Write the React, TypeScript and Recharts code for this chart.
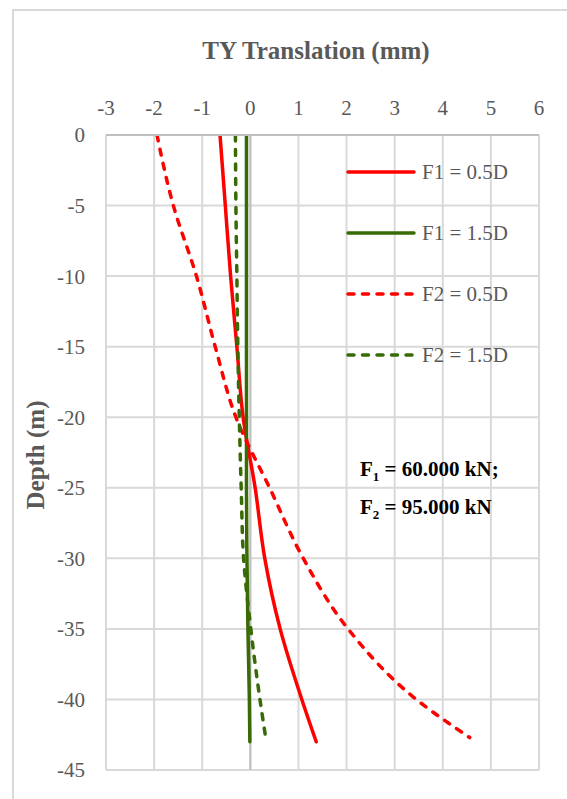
import { LineChart, Line, XAxis, YAxis, CartesianGrid, ReferenceLine, Legend } from "recharts";

// depth along the pile (m) and lateral TY translation (mm) per load case
const DEPTH_F1 = [0, -5, -10, -15, -20, -25, -30, -35, -40, -43];
const F1_05D = [-0.63, -0.52, -0.41, -0.28, -0.15, 0.1, 0.3, 0.62, 1.07, 1.37];
const F1_15D = [-0.08, -0.08, -0.08, -0.08, -0.08, -0.08, -0.07, -0.05, -0.02, -0.01];

const DEPTH_F2_05D = [0, -5, -10, -15, -20, -25, -30, -35, -40, -42.7];
const F2_05D = [-1.94, -1.6, -1.12, -0.73, -0.3, 0.4, 1.1, 2.03, 3.45, 4.56];

const DEPTH_F2_15D = [0, -5, -10, -15, -20, -25, -30, -35, -40, -42.5];
const F2_15D = [-0.31, -0.3, -0.28, -0.26, -0.23, -0.19, -0.14, 0.01, 0.2, 0.31];

const X_TICKS = [-3, -2, -1, 0, 1, 2, 3, 4, 5, 6];
const Y_TICKS = [0, -5, -10, -15, -20, -25, -30, -35, -40, -45];

const RED = "#ff0000";
const GREEN = "#386a05";
const TEXT = "#595959";
const GRID = "#d9d9d9";
const FONT = '"Liberation Serif", "Times New Roman", serif';

const toPoints = (depths: number[], xs: number[]) =>
  depths.map((d, i) => ({ depth: d, x: xs[i] }));

const SERIES = [
  { name: "F1 = 0.5D", color: RED, dashed: false, data: toPoints(DEPTH_F1, F1_05D) },
  { name: "F1 = 1.5D", color: GREEN, dashed: false, data: toPoints(DEPTH_F1, F1_15D) },
  { name: "F2 = 0.5D", color: RED, dashed: true, data: toPoints(DEPTH_F2_05D, F2_05D) },
  { name: "F2 = 1.5D", color: GREEN, dashed: true, data: toPoints(DEPTH_F2_15D, F2_15D) },
];

const LINE_W = 3.5;
const DASH = "6 8.5";

function LegendBox(props: any) {
  const payload = props.payload || [];
  return (
    <svg width={210} height={230} style={{ display: "block" }}>
      {payload.map((entry: any, i: number) => {
        const s = SERIES.find((v) => v.name === entry.value);
        const y = 22 + i * 61;
        return (
          <g key={entry.value}>
            <line
              x1={9}
              x2={75}
              y1={y}
              y2={y}
              stroke={entry.color}
              strokeWidth={LINE_W}
              strokeLinecap="round"
              strokeDasharray={s && s.dashed ? DASH : undefined}
            />
            <text x={83} y={y + 7} fill={TEXT} fontSize={21} fontFamily={FONT}>
              {entry.value}
            </text>
          </g>
        );
      })}
    </svg>
  );
}

export default function App() {
  const tick = { fill: TEXT, fontSize: 21, fontFamily: FONT };
  return (
    <div
      style={{
        position: "absolute",
        left: 0,
        top: 0,
        width: 567,
        height: 799,
        overflow: "hidden",
        background: "#fff",
      }}
    >
      <div
        style={{
          position: "absolute",
          left: 12,
          top: 9,
          width: 620,
          height: 840,
          borderLeft: `2px solid ${GRID}`,
          borderTop: `2px solid ${GRID}`,
        }}
      />
      <div
        style={{
          position: "absolute",
          left: 0,
          top: 36,
          width: 632,
          textAlign: "center",
          fontFamily: FONT,
          fontWeight: "bold",
          fontSize: 25,
          lineHeight: "30px",
          color: TEXT,
        }}
      >
        TY Translation (mm)
      </div>
      <div
        style={{
          position: "absolute",
          left: 36,
          top: 455,
          transform: "translate(-50%, -50%) rotate(-90deg)",
          whiteSpace: "nowrap",
          fontFamily: FONT,
          fontWeight: "bold",
          fontSize: 25,
          color: TEXT,
        }}
      >
        Depth (m)
      </div>
      <LineChart
        width={567}
        height={799}
        margin={{ top: 95, right: 28, bottom: 29, left: 26 }}
        style={{ position: "absolute", left: 0, top: 0 }}
      >
        <CartesianGrid stroke={GRID} strokeWidth={2} />
        <XAxis
          type="number"
          dataKey="x"
          orientation="top"
          domain={[-3, 6]}
          ticks={X_TICKS}
          allowDataOverflow
          height={40}
          tickLine={false}
          tickMargin={14}
          axisLine={{ stroke: "#bfbfbf", strokeWidth: 2 }}
          tick={tick}
        />
        <YAxis
          type="number"
          dataKey="depth"
          domain={[-45, 0]}
          ticks={Y_TICKS}
          allowDataOverflow
          width={80}
          tickLine={false}
          tickMargin={15}
          axisLine={false}
          tick={tick}
        />
        <ReferenceLine x={0} stroke="#bfbfbf" strokeWidth={2} />
        <Legend
          layout="vertical"
          align="center"
          verticalAlign="middle"
          content={<LegendBox />}
          wrapperStyle={{ left: 339, top: 150, width: 210, height: 230 }}
        />
        {SERIES.map((s) => (
          <Line
            key={s.name}
            name={s.name}
            data={s.data}
            dataKey="depth"
            type="monotoneY"
            stroke={s.color}
            strokeWidth={LINE_W}
            strokeDasharray={s.dashed ? DASH : undefined}
            strokeLinecap="round"
            dot={false}
            activeDot={false}
            isAnimationActive={false}
          />
        ))}
      </LineChart>
      <div
        style={{
          position: "absolute",
          left: 360,
          top: 454,
          fontFamily: FONT,
          fontWeight: "bold",
          fontSize: 21,
          lineHeight: "31px",
          color: "#000",
          whiteSpace: "nowrap",
        }}
      >
        <div>
          F<span style={{ fontSize: 13, verticalAlign: -5 }}>1</span> = 60.000 kN;
        </div>
        <div>
          F<span style={{ fontSize: 13, verticalAlign: -5 }}>2</span> = 95.000 kN
        </div>
      </div>
    </div>
  );
}
